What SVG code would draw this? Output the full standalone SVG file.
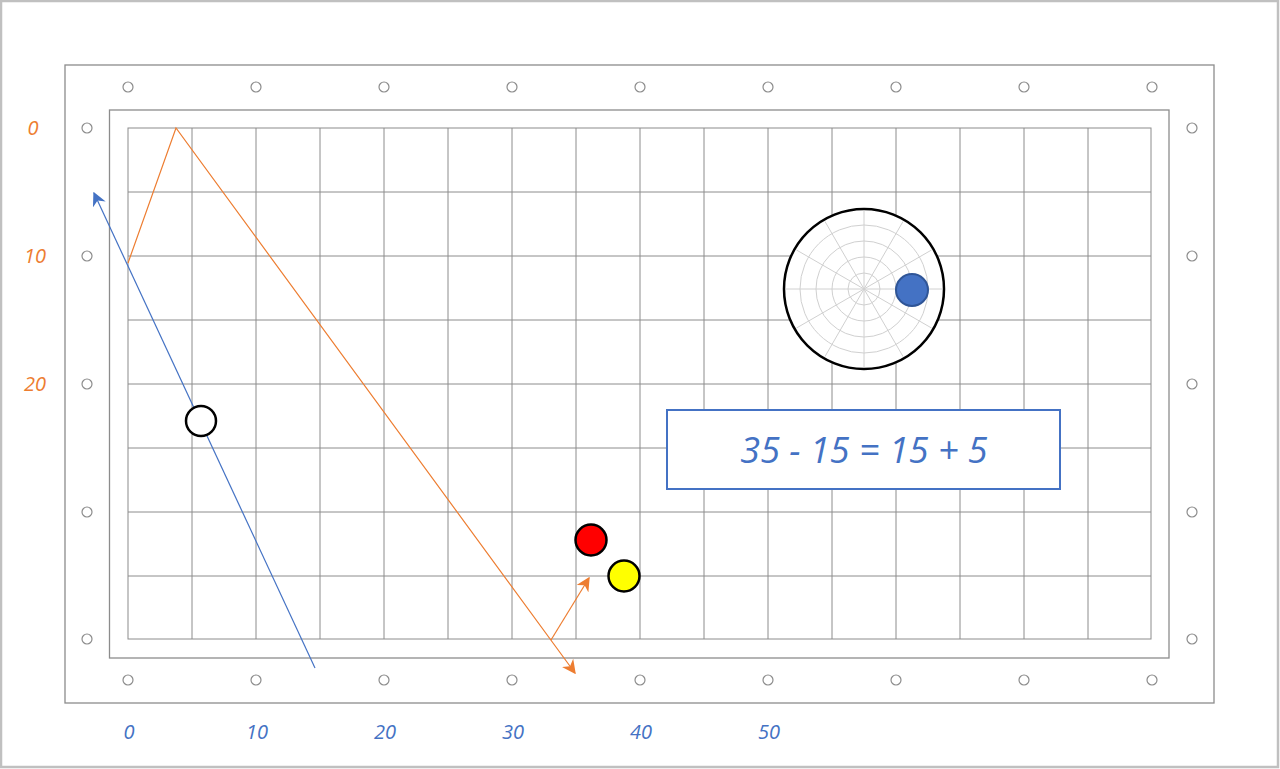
<svg xmlns="http://www.w3.org/2000/svg" width="1280" height="769" viewBox="0 0 1280 769">
<style>
.frame{fill:none;stroke:#8c8c8c;stroke-width:1.3}
.grid{fill:none;stroke:#8c8c8c;stroke-width:1}
.pin{fill:#fff;stroke:#8c8c8c;stroke-width:1.2}
.lblo{font-family:"Open Sans","Noto Sans",sans-serif;font-style:italic;font-size:20px;fill:#ed7d31;text-anchor:middle}
.lblb{font-family:"Open Sans","Noto Sans",sans-serif;font-style:italic;font-size:20px;fill:#4472c4;text-anchor:middle}
.polar{fill:none;stroke:#d0d0d0;stroke-width:1}
</style>
<defs>
<marker id="ab" viewBox="0 0 10 10" refX="9" refY="5" markerWidth="14" markerHeight="14" orient="auto" markerUnits="userSpaceOnUse">
<path d="M0,0 L10,5 L0,10 L3,5 z" fill="#4472c4"/>
</marker>
<marker id="ao2" viewBox="0 0 10 10" refX="9" refY="5" markerWidth="14" markerHeight="14" orient="auto" markerUnits="userSpaceOnUse">
<path d="M0,0 L10,5 L0,10 L3,5 z" fill="#ed7d31"/>
</marker>
</defs>
<rect x="0" y="0" width="1280" height="769" fill="#fff"/>
<rect x="1" y="1" width="1277" height="766" fill="none" stroke="#c0c0c0" stroke-width="2.5"/>
<g id="board">
<rect class="frame" x="65" y="65" width="1149" height="638"/>
<rect class="frame" x="109.5" y="110" width="1059.5" height="548"/>
<g id="grid">
<rect class="grid" x="128" y="128" width="1023" height="511"/>
<path class="grid" d="M192,128V639M256,128V639M320,128V639M384,128V639M448,128V639M512,128V639M576,128V639M640,128V639M704,128V639M768,128V639M832,128V639M896,128V639M960,128V639M1024,128V639M1088,128V639M128,192H1151M128,256H1151M128,320H1151M128,384H1151M128,448H1151M128,512H1151M128,576H1151"/>
</g>
<g id="pins">
<circle class="pin" cx="128" cy="87" r="5"/><circle class="pin" cx="256" cy="87" r="5"/><circle class="pin" cx="384" cy="87" r="5"/><circle class="pin" cx="512" cy="87" r="5"/><circle class="pin" cx="640" cy="87" r="5"/><circle class="pin" cx="768" cy="87" r="5"/><circle class="pin" cx="896" cy="87" r="5"/><circle class="pin" cx="1024" cy="87" r="5"/><circle class="pin" cx="1152" cy="87" r="5"/>
<circle class="pin" cx="128" cy="680" r="5"/><circle class="pin" cx="256" cy="680" r="5"/><circle class="pin" cx="384" cy="680" r="5"/><circle class="pin" cx="512" cy="680" r="5"/><circle class="pin" cx="640" cy="680" r="5"/><circle class="pin" cx="768" cy="680" r="5"/><circle class="pin" cx="896" cy="680" r="5"/><circle class="pin" cx="1024" cy="680" r="5"/><circle class="pin" cx="1152" cy="680" r="5"/>
<circle class="pin" cx="87" cy="128" r="5"/><circle class="pin" cx="87" cy="256" r="5"/><circle class="pin" cx="87" cy="384" r="5"/><circle class="pin" cx="87" cy="512" r="5"/><circle class="pin" cx="87" cy="639" r="5"/>
<circle class="pin" cx="1192" cy="128" r="5"/><circle class="pin" cx="1192" cy="256" r="5"/><circle class="pin" cx="1192" cy="384" r="5"/><circle class="pin" cx="1192" cy="512" r="5"/><circle class="pin" cx="1192" cy="639" r="5"/>
</g>
</g>
<g id="labels">
<text class="lblo" x="33" y="135">0</text>
<text class="lblo" x="35" y="263">10</text>
<text class="lblo" x="35" y="391">20</text>
<text class="lblb" x="129" y="739">0</text>
<text class="lblb" x="257" y="739">10</text>
<text class="lblb" x="385" y="739">20</text>
<text class="lblb" x="513" y="739">30</text>
<text class="lblb" x="641" y="739">40</text>
<text class="lblb" x="769" y="739">50</text>
</g>
<g id="connectors">
<polyline points="128,263 176,128 575,673" fill="none" stroke="#ed7d31" stroke-width="1.2" marker-end="url(#ao2)"/>
<line x1="551" y1="640" x2="589" y2="578" stroke="#ed7d31" stroke-width="1.2" marker-end="url(#ao2)"/>
<line x1="315" y1="668" x2="94" y2="193" stroke="#4472c4" stroke-width="1.2" marker-end="url(#ab)"/>
</g>
<g id="white-ball"><circle cx="201" cy="421" r="15" fill="#fff" stroke="#000" stroke-width="2.5"/></g>
<g id="red-ball"><circle cx="591" cy="540" r="15.5" fill="#ff0000" stroke="#000" stroke-width="2.5"/></g>
<g id="yellow-ball"><circle cx="624" cy="576" r="15.5" fill="#ffff00" stroke="#000" stroke-width="2.5"/></g>
<g id="polar">
<circle cx="864" cy="289" r="80" fill="#fff" stroke="#000" stroke-width="2.5"/>
<circle class="polar" cx="864" cy="289" r="16"/>
<circle class="polar" cx="864" cy="289" r="32"/>
<circle class="polar" cx="864" cy="289" r="48"/>
<circle class="polar" cx="864" cy="289" r="64"/>
<path class="polar" d="M786,289H942M864,211V367M796.5,250L931.5,328M796.5,328L931.5,250M825,221.5L903,356.5M825,356.5L903,221.5"/>
<circle cx="912" cy="290" r="16" fill="#4472c4" stroke="#2f5597" stroke-width="2"/>
</g>
<g id="equation">
<rect x="667" y="410" width="393" height="79" fill="#fff" stroke="#4472c4" stroke-width="2"/>
<text x="864" y="463" font-family="Open Sans,Noto Sans,sans-serif" font-style="italic" font-size="36" fill="#4472c4" text-anchor="middle">35 - 15 = 15 + 5</text>
</g>
</svg>
